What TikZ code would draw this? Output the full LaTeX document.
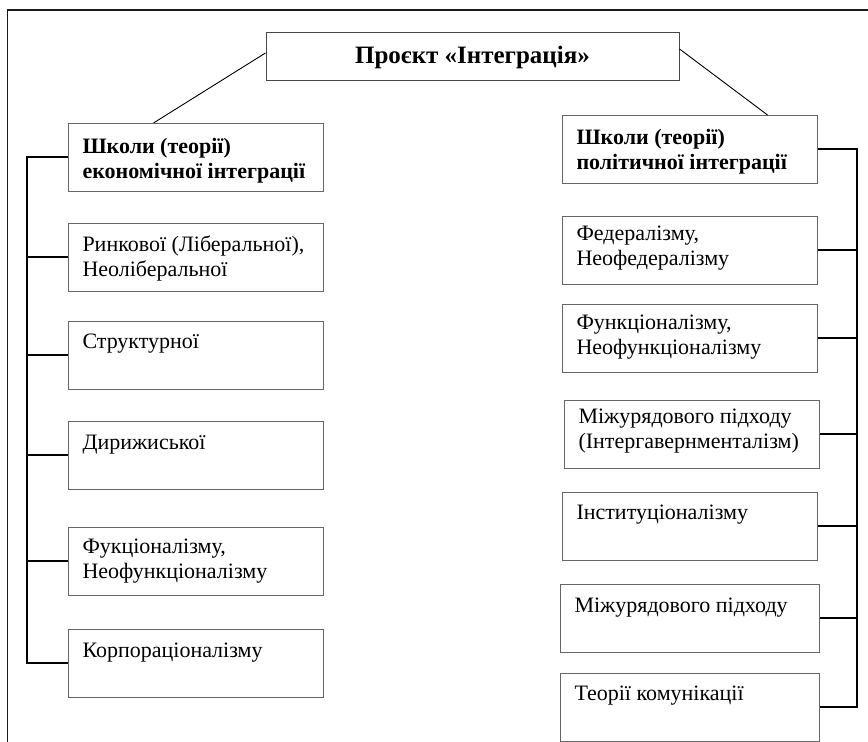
\documentclass[tikz,border=0pt]{standalone}
\usepackage{fontspec}
\setmainfont{Liberation Serif}
\usepackage{tikz}
\usetikzlibrary{positioning}
\definecolor{frameline}{HTML}{1A1A1A}
\definecolor{boxline}{HTML}{666666}
\tikzstyle{schoolbox} = [rectangle, draw=boxline, line width=1pt, inner sep=0pt]
\tikzstyle{titlebox} = [rectangle, draw=boxline!70!black, line width=1pt,
    minimum width=413pt, minimum height=48pt, font=\fontsize{25}{28}\selectfont\bfseries]
\tikzstyle{bus} = [line width=2pt, black]
\tikzstyle{link} = [line width=0.9pt, black]
% box text: [width]{first baseline}{text}
\newcommand{\boxtxt}[3][255pt]{\parbox[c][68pt][t]{#1}{\fontsize{22}{25}\selectfont
    \raggedright\leftskip=14pt\rule{0pt}{#2}#3}}

\begin{document}
\begin{tikzpicture}[x=1pt, y=1pt]
\useasboundingbox (0,0) rectangle (868,742);
\draw[line width=1.6pt, frameline] (7.5,0) -- (7.5,732) -- (868,732);

\node[titlebox] (proj) at (472.5,685) {Проєкт «Інтеграція»};

% economic schools
\node[schoolbox, anchor=north west] (econ) at (68,619)
  {\boxtxt{30pt}{\bfseries Школи (теорії)\\ економічної інтеграції}};
\node[schoolbox, below=31pt of econ] (e1) {\boxtxt{28pt}{Ринкової (Ліберальної),\\ Неоліберальної}};
\node[schoolbox, below=29pt of e1] (e2) {\boxtxt{27pt}{Структурної}};
\node[schoolbox, below=31pt of e2] (e3) {\boxtxt{28pt}{Дирижиської}};
\node[schoolbox, below=37pt of e3] (e4) {\boxtxt{26pt}{Фукціоналізму,\\ Неофункціоналізму}};
\node[schoolbox, below=33pt of e4] (e5) {\boxtxt{28pt}{Корпораціоналізму}};

% political schools
\node[schoolbox, anchor=north west] (polit) at (562,627)
  {\boxtxt{29pt}{\bfseries Школи (теорії)\\ політичної інтеграції}};
\node[schoolbox, below=32pt of polit] (p1) {\boxtxt{24pt}{Федералізму,\\ Неофедералізму}};
\node[schoolbox, below=19pt of p1] (p2) {\boxtxt{25pt}{Функціоналізму,\\ Неофункціоналізму}};
\node[schoolbox, below=27pt of p2, xshift=2pt] (p3) {\boxtxt{23pt}{Міжурядового підходу\\ (Інтергавернменталізм)}};
\node[schoolbox, below=23pt of p3, xshift=-2pt] (p4) {\boxtxt{27pt}{Інституціоналізму}};
\node[schoolbox, below=23pt of p4] (p5) {\boxtxt[259pt]{28pt}{Міжурядового підходу}};
\node[schoolbox, below=20pt of p5] (p6) {\boxtxt[259pt]{27pt}{Теорії комунікації}};

\draw[link] ([yshift=4pt]proj.west) -- ([xshift=-42.5pt]econ.north);
\draw[link] ([yshift=8pt]proj.east) -- ([xshift=77.5pt]polit.north);

\coordinate (lbus) at (27,0);
\coordinate (rbus) at (857,0);
\draw[bus] (econ.west) -- (econ.west -| lbus) -- (e5.west -| lbus) -- (e5.west);
\foreach \n in {e1,e2,e3,e4}
  \draw[bus] (\n.west) -- (\n.west -| lbus);
\draw[bus] (polit.east) -- (polit.east -| rbus) -- (p6.east -| rbus) -- (p6.east);
\foreach \n in {p1,p2,p3,p4,p5}
  \draw[bus] (\n.east) -- (\n.east -| rbus);
\end{tikzpicture}
\end{document}
